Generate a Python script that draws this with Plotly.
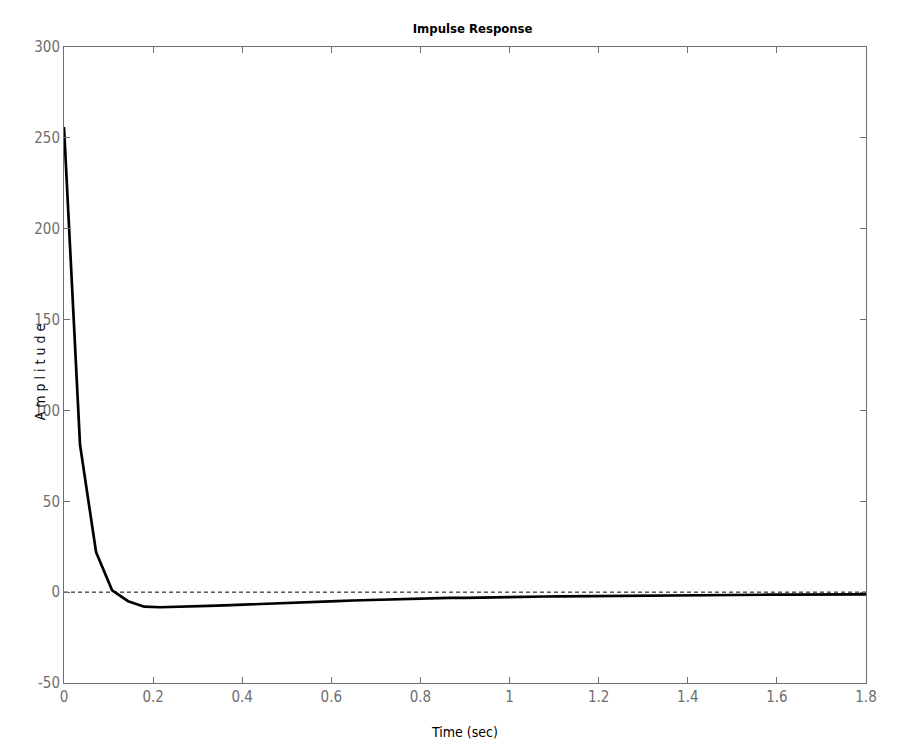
import plotly.graph_objects as go

# Impulse response samples
time_sec = [0.0, 0.036, 0.072, 0.108, 0.144, 0.18, 0.216, 0.252, 0.288, 0.324,
            0.36, 0.396, 0.432, 0.468, 0.504, 0.54, 0.576, 0.612, 0.648, 0.684,
            0.72, 0.756, 0.792, 0.828, 0.864, 0.9, 0.936, 0.972, 1.008, 1.044,
            1.08, 1.116, 1.152, 1.188, 1.224, 1.26, 1.296, 1.332, 1.368, 1.404,
            1.44, 1.476, 1.512, 1.548, 1.584, 1.62, 1.656, 1.692, 1.728, 1.764, 1.8]
amplitude = [256, 81, 22, 1, -5, -8, -8.3, -8.2, -7.9, -7.6,
             -7.3, -6.9, -6.5, -6.2, -5.9, -5.5, -5.2, -4.9, -4.6, -4.3,
             -4.1, -3.9, -3.6, -3.4, -3.2, -3.1, -2.9, -2.8, -2.6, -2.5,
             -2.4, -2.3, -2.2, -2.1, -2.0, -1.95, -1.9, -1.8, -1.75, -1.7,
             -1.6, -1.55, -1.5, -1.45, -1.4, -1.35, -1.3, -1.3, -1.25, -1.2, -1.2]

x_ticks = [0, 0.2, 0.4, 0.6, 0.8, 1, 1.2, 1.4, 1.6, 1.8]
x_labels = ["0", "0.2", "0.4", "0.6", "0.8", "1", "1.2", "1.4", "1.6", "1.8"]
y_ticks = [-50, 0, 50, 100, 150, 200, 250, 300]
y_labels = ["-50", "0", "50", "100", "150", "200", "250", "300"]

font_family = "DejaVu Sans Condensed, DejaVu Sans, sans-serif"
axis_color = "#6e6e6e"

fig = go.Figure()

# zero reference line
fig.add_trace(go.Scatter(
    x=[time_sec[0], time_sec[-1]], y=[0, 0], mode="lines",
    line=dict(color="black", width=1, dash="4px,3px"), hoverinfo="skip"
))

fig.add_trace(go.Scatter(
    x=time_sec, y=amplitude, mode="lines",
    line=dict(color="black", width=2.7)
))

axis_style = dict(
    showline=True, linecolor=axis_color, linewidth=1, mirror="ticks",
    ticks="inside", ticklen=6, tickcolor=axis_color, showgrid=False,
    zeroline=False,
    tickfont=dict(family=font_family, size=15, color=axis_color)
)

fig.update_layout(
    width=897, height=741,
    margin=dict(l=56, r=39, t=39, b=66),
    plot_bgcolor="white", paper_bgcolor="white",
    showlegend=False,
    title=dict(text="<b>Impulse Response</b>", x=0.518, xanchor="center",
               y=0.973, yanchor="middle",
               font=dict(family=font_family, size=13, color="black")),
    xaxis=dict(range=[0, 1.8], tickvals=x_ticks, ticktext=x_labels,
               title=dict(text="Time (sec)", standoff=22,
                          font=dict(family=font_family, size=14, color="black")),
               **axis_style),
    yaxis=dict(range=[-50, 300], tickvals=y_ticks, ticktext=y_labels, **axis_style),
)

fig.add_annotation(
    text="A m p l i t u d e", xref="paper", yref="paper",
    x=-0.03, y=0.49, textangle=-90, showarrow=False,
    xanchor="center", yanchor="middle",
    font=dict(family=font_family, size=14, color="black")
)

fig.write_html("out.html")
